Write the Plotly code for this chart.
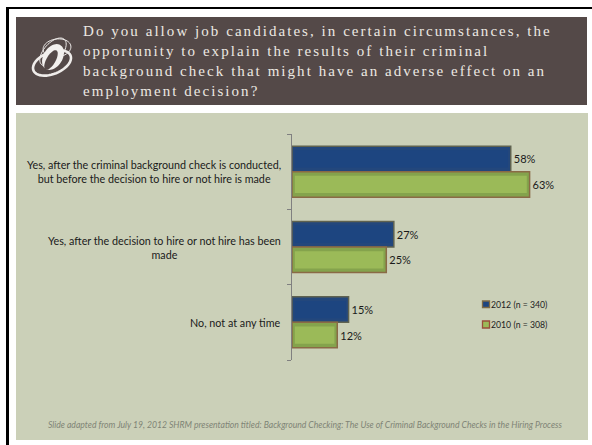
import math
import plotly.graph_objects as go

W, H = 592, 445

question_lines = [
    "Do you allow job candidates, in certain circumstances, the",
    "opportunity to explain the results of their criminal",
    "background check that might have an adverse effect on an",
    "employment decision?",
]
question_y = [31, 51.5, 70.5, 90.5]

categories = [
    "Yes, after the criminal background check is conducted,<br>but before the decision to hire or not hire is made",
    "Yes, after the decision to hire or not hire has been<br>made",
    "No, not at any time",
]
values_2012 = [58, 27, 15]
values_2010 = [63, 25, 12]
series_2012 = "2012 (n = 340)"
series_2010 = "2010 (n = 308)"
footnote = ("Slide adapted from July 19, 2012 SHRM presentation titled: "
            "Background Checking: The Use of Criminal Background Checks in the Hiring Process")

positions = list(range(len(categories)))
BAR = 0.339
INSET = 0.75        # inner highlight inset, in percentage points
INSET_Y = 0.055     # inner highlight inset, in category bands

NAVY, NAVY_IN = "#23477c", "#1d4580"
GREEN, GREEN_IN = "#84a34c", "#9bba58"
BAND = "#544948"
PLOT_L, PLOT_R, PLOT_T, PLOT_B = 292, 556, 134, 360


def px(x):
    return x / W


def py(y):
    return 1 - y / H


fig = go.Figure()


def add_series(values, offset, fill, inner, edge):
    # Outer bar carries the edge colour and the value label
    fig.add_trace(go.Bar(
        orientation="h", y=positions, x=values, offset=offset, width=BAR,
        marker=dict(color=fill, line=dict(color=edge, width=1.5)),
        text=[f"{v}%" for v in values], textposition="outside", cliponaxis=False,
        textfont=dict(family="Lato", size=11, color="#1a1a1a"), showlegend=False,
    ))
    # Lighter centre panel inset from the edges of the bar
    fig.add_trace(go.Bar(
        orientation="h", y=positions, x=[v - 2 * INSET for v in values], base=INSET,
        offset=offset + INSET_Y, width=BAR - 2 * INSET_Y,
        marker=dict(color=inner, line=dict(width=0)), showlegend=False,
    ))


add_series(values_2012, -BAR, NAVY, NAVY_IN, "#5f6250")
add_series(values_2010, 0, GREEN, GREEN_IN, "#8a6a45")

shapes = [
    # page frame, header band and chart panel
    dict(type="rect", x0=px(6), x1=px(9), y0=py(445), y1=py(7), line_width=0, fillcolor="#000"),
    dict(type="rect", x0=px(6), x1=px(592), y0=py(9), y1=py(7), line_width=0, fillcolor="#000"),
    dict(type="rect", x0=px(16), x1=px(587), y0=py(105), y1=py(17), line_width=0, fillcolor=BAND),
    dict(type="rect", x0=px(16), x1=px(588), y0=py(440), y1=py(113), line_width=0, fillcolor="#cbd0b8"),
    # legend swatches
    dict(type="rect", x0=px(482.5), x1=px(489.5), y0=py(307.5), y1=py(301), fillcolor=NAVY_IN,
         line=dict(color="#7d6a45", width=1.3)),
    dict(type="rect", x0=px(482.5), x1=px(489.5), y0=py(328), y1=py(321), fillcolor=GREEN_IN,
         line=dict(color="#9a4f3a", width=1.3)),
]


def ellipse_path(cx, cy, rx, ry, angle):
    a = math.radians(angle)
    pts = []
    for i in range(49):
        t = 2 * math.pi * i / 48
        x = rx * math.cos(t)
        y = ry * math.sin(t)
        pts.append((cx + x * math.cos(a) - y * math.sin(a), cy + x * math.sin(a) + y * math.cos(a)))
    return "M" + " L".join(f"{px(x):.5f},{py(y):.5f}" for x, y in pts) + " Z"


# Swirl emblem in the header band
for cx, cy, rx, ry, ang, lw, fill in [
    (52, 63, 20, 11, -22, 2.6, None),
    (53, 52, 17, 9, -48, 1.0, None),
    (57, 48, 14, 9, -8, 1.0, None),
    (53, 57, 14, 9.5, -58, 0, "#f2f0ee"),
    (51, 60, 11, 4.5, -60, 0, BAND),
]:
    shapes.append(dict(type="path", path=ellipse_path(cx, cy, rx, ry, ang),
                       line=dict(color="#efecea", width=lw),
                       fillcolor=fill if fill else "rgba(0,0,0,0)"))
for i, s in enumerate(shapes):
    s["xref"] = "paper"
    s["yref"] = "paper"
    s["layer"] = "below" if i < 4 else "above"

annotations = []
for line, y in zip(question_lines, question_y):
    annotations.append(dict(
        text=line, xref="paper", yref="paper", x=px(82), y=py(y), xanchor="left", yanchor="middle",
        showarrow=False, align="left", borderpad=0,
        font=dict(family="Liberation Serif", size=15, color="#ece8e2"),
    ))
for pos, label in zip(positions, categories):
    annotations.append(dict(
        text=label, xref="paper", yref="y", x=px(281.5), y=pos, xanchor="right", yanchor="middle",
        showarrow=False, align="center", borderpad=0,
        font=dict(family="Lato", size=10.75, color="#1a1a1a"),
    ))
for label, y in [(series_2012, 304), (series_2010, 324)]:
    annotations.append(dict(
        text=label, xref="paper", yref="paper", x=px(490), y=py(y), xanchor="left", yanchor="middle",
        showarrow=False, borderpad=0, font=dict(family="Lato", size=8.7, color="#222"),
    ))
annotations.append(dict(
    text=footnote, xref="paper", yref="paper", x=px(305), y=py(424), xanchor="center", yanchor="middle",
    showarrow=False, borderpad=0, font=dict(family="Lato", size=8.65, color="#7f8476", style="italic"),
))

fig.update_layout(
    width=W, height=H, margin=dict(l=0, r=0, t=0, b=0),
    paper_bgcolor="#ffffff", plot_bgcolor="rgba(0,0,0,0)",
    barmode="overlay", showlegend=False,
    shapes=shapes, annotations=annotations,
    xaxis=dict(domain=[px(PLOT_L), px(PLOT_R)], range=[0, 70], visible=False, fixedrange=True),
    yaxis=dict(domain=[py(PLOT_B), py(PLOT_T)], range=[2.5, -0.5], tickvals=[-0.5, 0.5, 1.5, 2.5],
               ticktext=["", "", "", ""], ticks="outside", ticklen=4, tickcolor="#808080",
               showline=True, linecolor="#808080", linewidth=1, showgrid=False, zeroline=False,
               fixedrange=True),
)

# Widen the tracking of the header question text
spacing_js = """
document.querySelectorAll('.annotation-text').forEach(function (t) {
  if (t.style.fontFamily.indexOf('Serif') !== -1) { t.style.letterSpacing = '2.05px'; }
});
"""
fig.write_html("out.html", post_script=spacing_js, config=dict(displayModeBar=False))
